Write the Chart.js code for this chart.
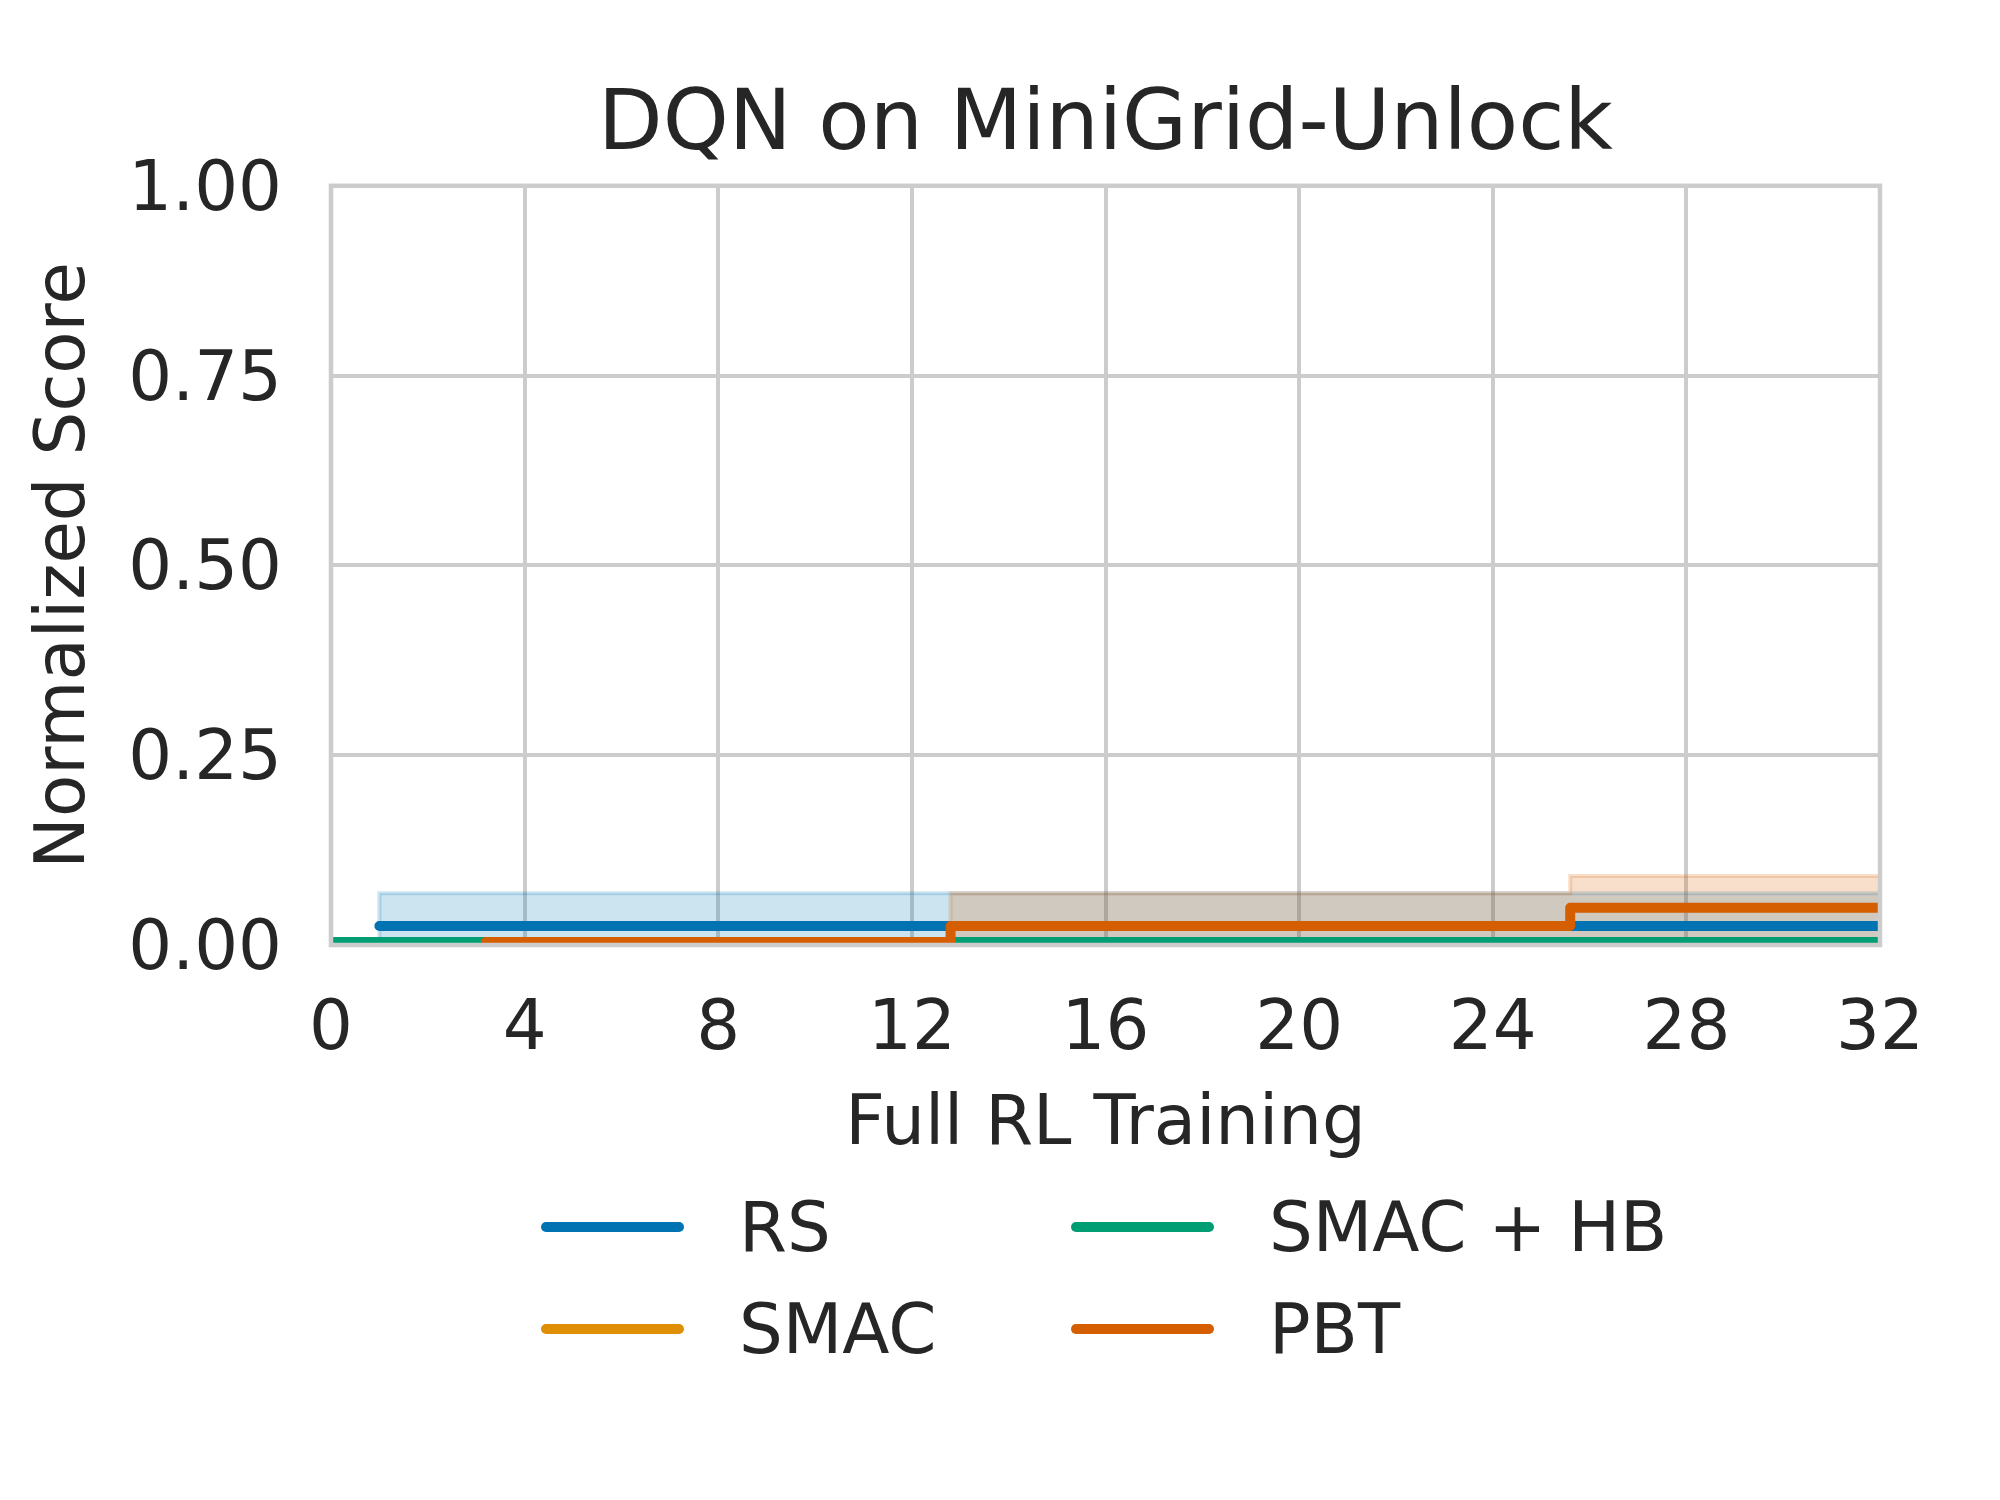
<!DOCTYPE html>
<html><head><meta charset="utf-8">
<script src="https://cdn.jsdelivr.net/npm/chart.js@4/dist/chart.umd.min.js"></script>
<style>
html,body{margin:0;padding:0;background:#fff;}
#wrap{position:relative;width:2000px;height:1500px;}
#legend{position:absolute;left:0;top:0;width:2000px;height:1500px;pointer-events:none;font-family:"DejaVu Sans";color:#262626;}
.item{position:absolute;display:flex;align-items:center;height:90px;font-size:69px;white-space:nowrap;}
.swatch{width:143px;height:10px;border-radius:5px;margin-right:55px;}
</style></head><body>
<div id="wrap"><canvas id="c" width="2000" height="1500"></canvas><div id="legend"></div></div>
<script>
const chartTitle = 'DQN on MiniGrid-Unlock';
const xLabel = 'Full RL Training';
const yLabel = 'Normalized Score';
const seriesNames = ['RS', 'SMAC', 'SMAC + HB', 'PBT'];
const seriesColors = ['#0173b2', '#de8f05', '#029e73', '#d55e00'];
const rsX = [1, 32];
const rsY = [0.025, 0.025];
const smacX = [0, 32];
const smacY = [0.004, 0.004];
const smacHbX = [0, 32];
const smacHbY = [0.004, 0.004];
const pbtX = [3.2, 12.8, 25.6, 32];
const pbtY = [0.004, 0.025, 0.049, 0.049];
const rsBandX = [1, 1, 32];
const rsBandUpper = [0, 0.068, 0.068];
const pbtBandX = [12.8, 12.8, 25.6, 32];
const pbtBandUpper = [0, 0.068, 0.091, 0.091];
const xTickLabels = ['0', '4', '8', '12', '16', '20', '24', '28', '32'];
const yTickLabels = ['0.00', '0.25', '0.50', '0.75', '1.00'];

const pts = (xs, ys) => xs.map((x, i) => ({x: x, y: ys[i]}));
const rgba = (hex, a) => {
  const n = parseInt(hex.slice(1), 16);
  return `rgba(${(n >> 16) & 255},${(n >> 8) & 255},${n & 255},${a})`;
};

const lineDs = (idx, xs, ys, order) => ({
  label: seriesNames[idx], data: pts(xs, ys), borderColor: seriesColors[idx],
  backgroundColor: seriesColors[idx], borderWidth: 10, pointRadius: 0,
  stepped: 'before', fill: false, borderCapStyle: 'round', borderJoinStyle: 'round',
  order: order, clip: 0
});
const bandDs = (idx, xs, ys, order) => ({
  label: seriesNames[idx] + ' band', data: pts(xs, ys), borderColor: rgba(seriesColors[idx], 0.2),
  backgroundColor: rgba(seriesColors[idx], 0.2), borderWidth: 4, pointRadius: 0,
  stepped: 'before', fill: 'origin', order: order, clip: 0, isBand: true
});

const frame = {
  id: 'frame',
  afterDatasetsDraw(chart) {
    const a = chart.chartArea, ctx = chart.ctx;
    ctx.save();
    ctx.strokeStyle = '#cccccc';
    ctx.lineWidth = 4.5;
    ctx.strokeRect(a.left, a.top, a.right - a.left, a.bottom - a.top);
    ctx.restore();
  }
};

const chart = new Chart(document.getElementById('c'), {
  type: 'line',
  data: {
    datasets: [
      lineDs(0, rsX, rsY, 4),
      lineDs(1, smacX, smacY, 3),
      lineDs(2, smacHbX, smacHbY, 2),
      lineDs(3, pbtX, pbtY, 1),
      bandDs(0, rsBandX, rsBandUpper, 11),
      bandDs(3, pbtBandX, pbtBandUpper, 10)
    ]
  },
  options: {
    responsive: false, animation: false, devicePixelRatio: 1,
    layout: {padding: {left: 21, right: 120, top: 0, bottom: 333}},
    plugins: {
      legend: {display: false}, tooltip: {enabled: false},
      title: {display: true, fullSize: false, text: chartTitle, color: '#262626',
        font: {family: 'DejaVu Sans', size: 84, weight: 'normal'}, padding: {top: 77, bottom: 8}}
    },
    scales: {
      x: {
        type: 'linear', min: 0, max: 32,
        afterFit: (s) => { s.height = 222; },
        ticks: {stepSize: 4, color: '#262626', padding: 45, maxRotation: 0,
          font: {family: 'DejaVu Sans', size: 69},
          callback: (v) => { const i = xTickLabels.indexOf(String(v)); return i >= 0 ? xTickLabels[i] : ''; }},
        grid: {color: '#cccccc', lineWidth: 4, drawTicks: false},
        border: {display: false},
        title: {display: true, text: xLabel, color: '#262626',
          font: {family: 'DejaVu Sans', size: 69}, padding: {top: 0, bottom: 0}}
      },
      y: {
        min: 0, max: 1,
        afterFit: (s) => { s.width = 310; },
        ticks: {stepSize: 0.25, color: '#262626', padding: 49, labelOffset: 6,
          font: {family: 'DejaVu Sans', size: 69},
          callback: (v) => yTickLabels[Math.round(v / 0.25)]},
        grid: {color: '#cccccc', lineWidth: 4, drawTicks: false},
        border: {display: false},
        title: {display: true, text: yLabel, color: '#262626',
          font: {family: 'DejaVu Sans', size: 69}, padding: {top: 4, bottom: 0}}
      }
    }
  },
  plugins: [frame]
});

// HTML legend (matplotlib-style column-major, 2 columns)
const legend = document.getElementById('legend');
const colLeft = [541, 1071];
const rowCenter = [1227, 1329];
chart.data.datasets.filter(d => !d.isBand).forEach((d, i) => {
  const col = Math.floor(i / 2), row = i % 2;
  const el = document.createElement('div');
  el.className = 'item';
  el.style.left = colLeft[col] + 'px';
  el.style.top = (rowCenter[row] - 45) + 'px';
  const sw = document.createElement('div');
  sw.className = 'swatch';
  sw.style.background = d.borderColor;
  const tx = document.createElement('span');
  tx.textContent = d.label;
  el.appendChild(sw); el.appendChild(tx);
  legend.appendChild(el);
});
</script>
</body></html>
